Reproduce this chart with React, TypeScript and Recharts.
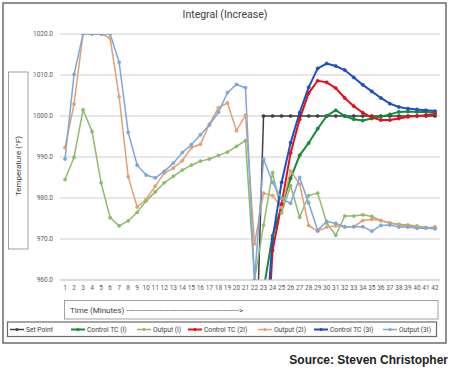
import React from 'react';
import { LineChart, Line, XAxis, YAxis, CartesianGrid } from 'recharts';

const minutes = ['1','2','3','4','5','6','7','8','9','10','11','12','13','14','15','16','17','18','19','20','21','22','23','24','25','26','27','28','29','30','31','32','33','34','35','36','37','38','39','40','41','42'];

const yTicks = [960, 970, 980, 990, 1000, 1010, 1020];

const setPoint = [null,null,null,null,null,null,null,null,null,null,null,null,null,null,null,null,null,null,null,null,null,928,1000,1000,1000,1000,1000,1000,1000,1000,1000,1000,1000,1000,1000,1000,1000,1000,1000,1000,1000,1000];

const controlI = [null,null,null,null,null,null,null,null,null,null,null,null,null,null,null,null,null,null,null,null,null,null,957.5,970.8,978.0,984.8,990.4,993.4,996.9,1000.0,1001.4,1000.0,999.2,998.9,999.4,999.8,1000.4,1001.0,1001.1,1001.0,1001.0,1000.8];

const outputI = [984.5,989.9,1001.5,996.2,983.7,975.2,973.2,974.4,976.5,979.3,981.5,983.7,985.3,986.8,988.0,989.0,989.5,990.4,991.2,992.6,994.0,960,973.4,986.2,976.4,983.0,975.3,980.6,981.2,973.9,970.9,975.6,975.6,975.9,975.5,974.5,973.9,973.6,973.4,973.2,972.8,972.6];

const control2I = [null,null,null,null,null,null,null,null,null,null,null,null,null,null,null,null,null,null,null,null,null,null,928,967.2,978.5,991.0,999.2,1005.6,1008.6,1008.2,1006.8,1004.4,1002.4,1000.8,999.6,999.0,999.0,999.4,999.8,1000.0,1000.2,1000.4];

const output2I = [992.3,1002.9,1020,1020,1020,1019.0,1004.7,985.2,977.8,979.7,982.9,986.1,987.3,989.1,992.3,993.1,998.0,1002.0,1003.2,996.4,1000.2,968.8,981.2,980.6,977.7,986.6,983.4,973.3,971.9,972.9,973.2,972.9,973.0,974.5,974.8,974.5,973.9,973.4,973.2,973.0,972.7,973.0];

const control3I = [null,null,null,null,null,null,null,null,null,null,null,null,null,null,null,null,null,null,null,null,null,null,940,970.0,983.8,993.5,1000.8,1007.0,1011.6,1012.8,1012.2,1011.2,1009.4,1007.6,1006.0,1004.4,1003.0,1002.2,1001.8,1001.6,1001.4,1001.2];

const output3I = [989.5,1010.1,1020,1020,1020,1020,1013.1,996.0,988.0,985.6,984.9,986.5,988.5,991.1,993.0,995.4,997.8,1000.9,1005.7,1007.7,1006.9,960,989.5,983.8,979.9,978.7,985.0,978.8,972.1,974.3,973.8,973.0,973.0,973.0,971.9,973.3,973.4,972.9,972.9,972.6,972.7,972.5];

const seriesNames = ['Set Point', 'Control TC (I)', 'Output (I)', 'Control TC (2I)', 'Output (2I)', 'Control TC (3I)', 'Output (3I)'];
const seriesKeys = ['setPoint', 'controlI', 'outputI', 'control2I', 'output2I', 'control3I', 'output3I'];
const seriesValues = [setPoint, controlI, outputI, control2I, output2I, control3I, output3I];

const seriesColors = ['#404040', '#138a3b', '#8dbb6a', '#e3101b', '#e0a074', '#1c4fc4', '#7ea6d6'];
const seriesWidths = [1.5, 2, 1.5, 2, 1.5, 2, 1.5];
const legendX = [10, 71, 137, 188, 258, 314, 383];

const data = minutes.map((m, i) => {
  const row: Record<string, any> = { minute: m };
  seriesKeys.forEach((k, s) => { row[k] = seriesValues[s][i]; });
  return row;
});

const FONT = 'Roboto, "Liberation Sans", Arial, sans-serif';
const TXT = '#595959';

export default function App() {
  return (
    <div style={{ position: 'absolute', left: 0, top: 0, width: 456, height: 370, background: '#fff' }}>
      <div style={{ position: 'absolute', left: 0, top: 0 }}>
        <LineChart width={456} height={370} data={data} margin={{ top: 34, right: 16, left: 8, bottom: 70 }}>
          <CartesianGrid vertical={false} stroke="#cfcfcf" strokeWidth={1} />
          <XAxis
            dataKey="minute"
            padding={{ left: 5, right: 5 }}
            height={20}
            tickLine={false}
            axisLine={{ stroke: '#cfcfcf' }}
            tickSize={3}
            tickMargin={2}
            interval={0}
            tick={{ fontSize: 6.5, fill: TXT, fontFamily: FONT }}
          />
          <YAxis
            width={52}
            domain={[960, 1020]}
            ticks={yTicks}
            allowDataOverflow
            tickFormatter={(v: number) => v.toFixed(1)}
            tickLine={false}
            axisLine={false}
            tickSize={3}
            tickMargin={4}
            tick={{ fontSize: 6.5, fill: TXT, fontFamily: FONT }}
          />
          {seriesKeys.map((k, s) => (
            <Line
              key={k}
              type="linear"
              dataKey={k}
              name={seriesNames[s]}
              stroke={seriesColors[s]}
              strokeWidth={seriesWidths[s]}
              dot={{ r: 1.6, fill: seriesColors[s], stroke: seriesColors[s], strokeWidth: 0.6 }}
              isAnimationActive={false}
              connectNulls={false}
            />
          ))}
        </LineChart>
      </div>
      <svg width={456} height={370} style={{ position: 'absolute', left: 0, top: 0, pointerEvents: 'none' }}>
        <rect x={3} y={3} width={443} height={340} fill="none" stroke="#6b6b6b" strokeWidth={1.5} />
        <text x={225} y={18} textAnchor="middle" fontSize={10.5} fill="#404040" fontFamily={FONT}>Integral (Increase)</text>
        <rect x={8.5} y={72} width={19.5} height={177} fill="none" stroke="#8a8a8a" strokeWidth={0.8} />
        <text x={0} y={0} transform="translate(20.5,166) rotate(-90)" textAnchor="middle" fontSize={8} fill="#404040" fontFamily={FONT}>Temperature (°F)</text>
        <rect x={64.5} y={300.5} width={373.5} height={18.5} fill="none" stroke="#8a8a8a" strokeWidth={0.8} />
        <text x={70} y={312.5} fontSize={8} fill="#404040" fontFamily={FONT}>Time (Minutes) ---------------------------------------------------&gt;</text>
        <rect x={7.5} y={322} width={429} height={14.5} fill="none" stroke="#6b6b6b" strokeWidth={1.2} />
        {seriesNames.map((n, s) => (
          <g key={n}>
            <line x1={legendX[s]} y1={329.5} x2={legendX[s] + 14} y2={329.5} stroke={seriesColors[s]} strokeWidth={seriesWidths[s]} />
            <circle cx={legendX[s] + 7} cy={329.5} r={1.6} fill={seriesColors[s]} />
            <text x={legendX[s] + 16} y={331.8} fontSize={6.7} fill="#404040" fontFamily={FONT}>{n}</text>
          </g>
        ))}
        <text x={448} y={364} textAnchor="end" fontSize={12} fontWeight="bold" fill="#222" fontFamily='"Liberation Sans", Arial, sans-serif'>Source: Steven Christopher</text>
      </svg>
    </div>
  );
}
